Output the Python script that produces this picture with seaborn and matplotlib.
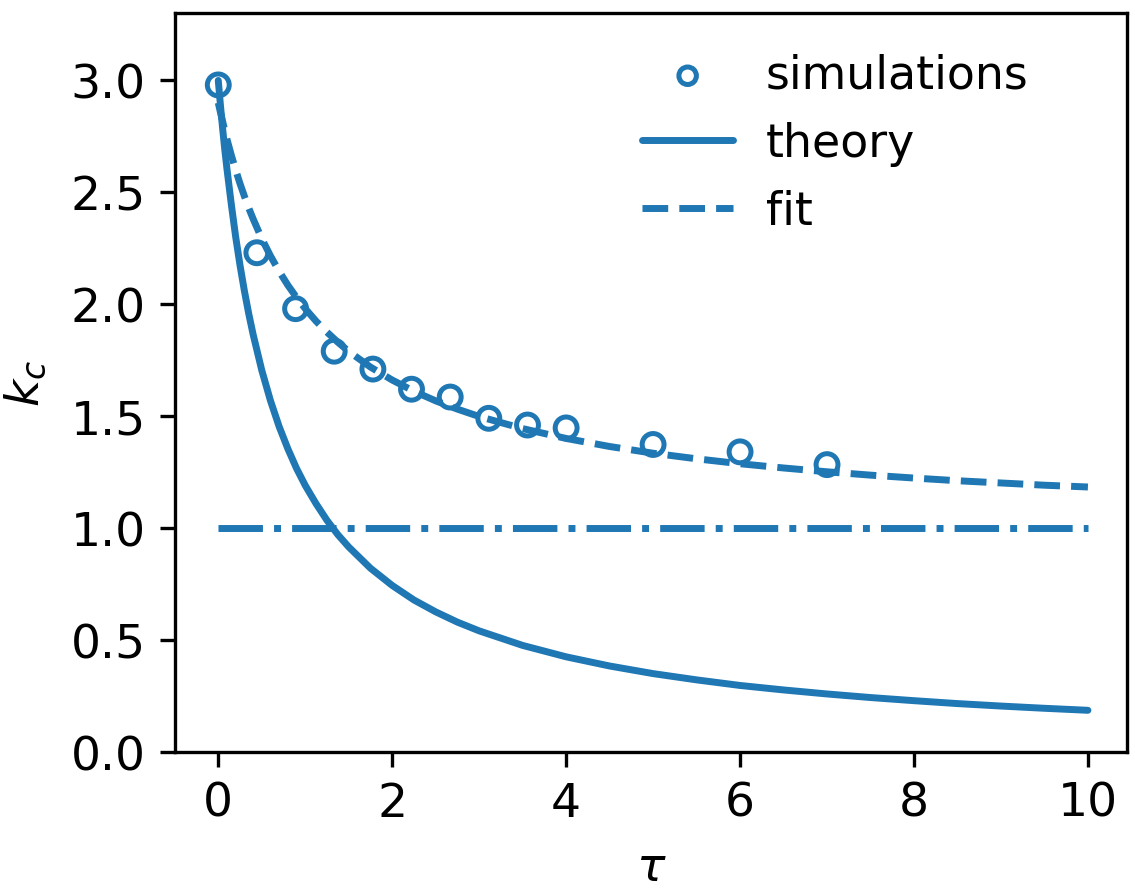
import matplotlib
matplotlib.use("Agg")
import matplotlib.pyplot as plt
import seaborn as sns

# Simulation data
sim_tau = [0.0, 0.444, 0.889, 1.333, 1.778, 2.222, 2.667, 3.111, 3.556, 4.0, 5.0, 6.0, 7.0]
sim_k = [2.98, 2.23, 1.98, 1.79, 1.71, 1.62, 1.585, 1.49, 1.46, 1.447, 1.373, 1.34, 1.283]

# Curves
curve_tau = [0, 0.025, 0.05, 0.075, 0.1, 0.15, 0.2, 0.25, 0.3, 0.35, 0.4, 0.5, 0.6, 0.7, 0.8, 0.9,
             1.0, 1.125, 1.25, 1.375, 1.5, 1.75, 2, 2.25, 2.5, 2.75, 3, 3.5, 4, 4.5, 5, 5.5, 6,
             6.5, 7, 7.5, 8, 8.5, 9, 9.5, 10]
theory_k = [3.000, 2.889, 2.785, 2.690, 2.604, 2.446, 2.301, 2.174, 2.060, 1.958, 1.866, 1.705,
            1.569, 1.453, 1.354, 1.266, 1.190, 1.108, 1.034, 0.970, 0.915, 0.820, 0.743, 0.678,
            0.625, 0.579, 0.540, 0.475, 0.424, 0.383, 0.349, 0.321, 0.296, 0.276, 0.258, 0.242,
            0.228, 0.215, 0.204, 0.194, 0.185]
fit_k = [2.900, 2.857, 2.817, 2.776, 2.737, 2.666, 2.600, 2.539, 2.483, 2.430, 2.382, 2.293,
         2.216, 2.147, 2.085, 2.030, 1.980, 1.924, 1.875, 1.830, 1.789, 1.719, 1.661, 1.611,
         1.568, 1.531, 1.498, 1.444, 1.400, 1.364, 1.334, 1.309, 1.287, 1.268, 1.251, 1.236,
         1.223, 1.211, 1.201, 1.191, 1.183]
ref_tau = [0, 10]
ref_k = [1.0, 1.0]

sns.set_style("ticks")
plt.rcParams['font.family'] = ['DejaVu Sans']
plt.rcParams['mathtext.fontset'] = 'dejavusans'
plt.rcParams['text.color'] = 'black'
plt.rcParams['axes.labelcolor'] = 'black'
plt.rcParams['xtick.color'] = 'black'
plt.rcParams['ytick.color'] = 'black'
plt.rcParams['axes.edgecolor'] = 'black'

color = '#1f77b4'
fig = plt.figure(figsize=(5.675, 4.475), dpi=200)
ax = fig.add_axes([0.154, 0.159, 0.839, 0.825])

sns.scatterplot(x=sim_tau, y=sim_k, ax=ax, marker='o', s=62, facecolor='none',
                edgecolor=color, linewidth=1.8, label='simulations', zorder=3)
sns.lineplot(x=curve_tau, y=theory_k, ax=ax, color=color, linewidth=2.5, label='theory')
sns.lineplot(x=curve_tau, y=fit_k, ax=ax, color=color, linewidth=2.5, linestyle='--', label='fit')
sns.lineplot(x=ref_tau, y=ref_k, ax=ax, color=color, linewidth=2.5, linestyle='-.')

ax.set_xlim(-0.5, 10.45)
ax.set_ylim(0, 3.3)
ax.set_xticks([0, 2, 4, 6, 8, 10])
ax.set_yticks([0.0, 0.5, 1.0, 1.5, 2.0, 2.5, 3.0])
ax.set_yticklabels(['0.0', '0.5', '1.0', '1.5', '2.0', '2.5', '3.0'])
ax.tick_params(labelsize=17, length=5.5, width=1.2, pad=5)
for s in ax.spines.values():
    s.set_visible(True)
    s.set_linewidth(1.2)
ax.set_xlabel(r'$\tau$', fontsize=17, labelpad=7)
ax.set_ylabel(r'$k_c$', fontsize=17, labelpad=8)

ax.legend(loc='upper right', bbox_to_anchor=(0.93, 0.99), frameon=False, fontsize=16.5,
          handlelength=2.0, handletextpad=0.7, markerscale=0.8, borderaxespad=0.3)

fig.savefig('out.png', dpi=200)
